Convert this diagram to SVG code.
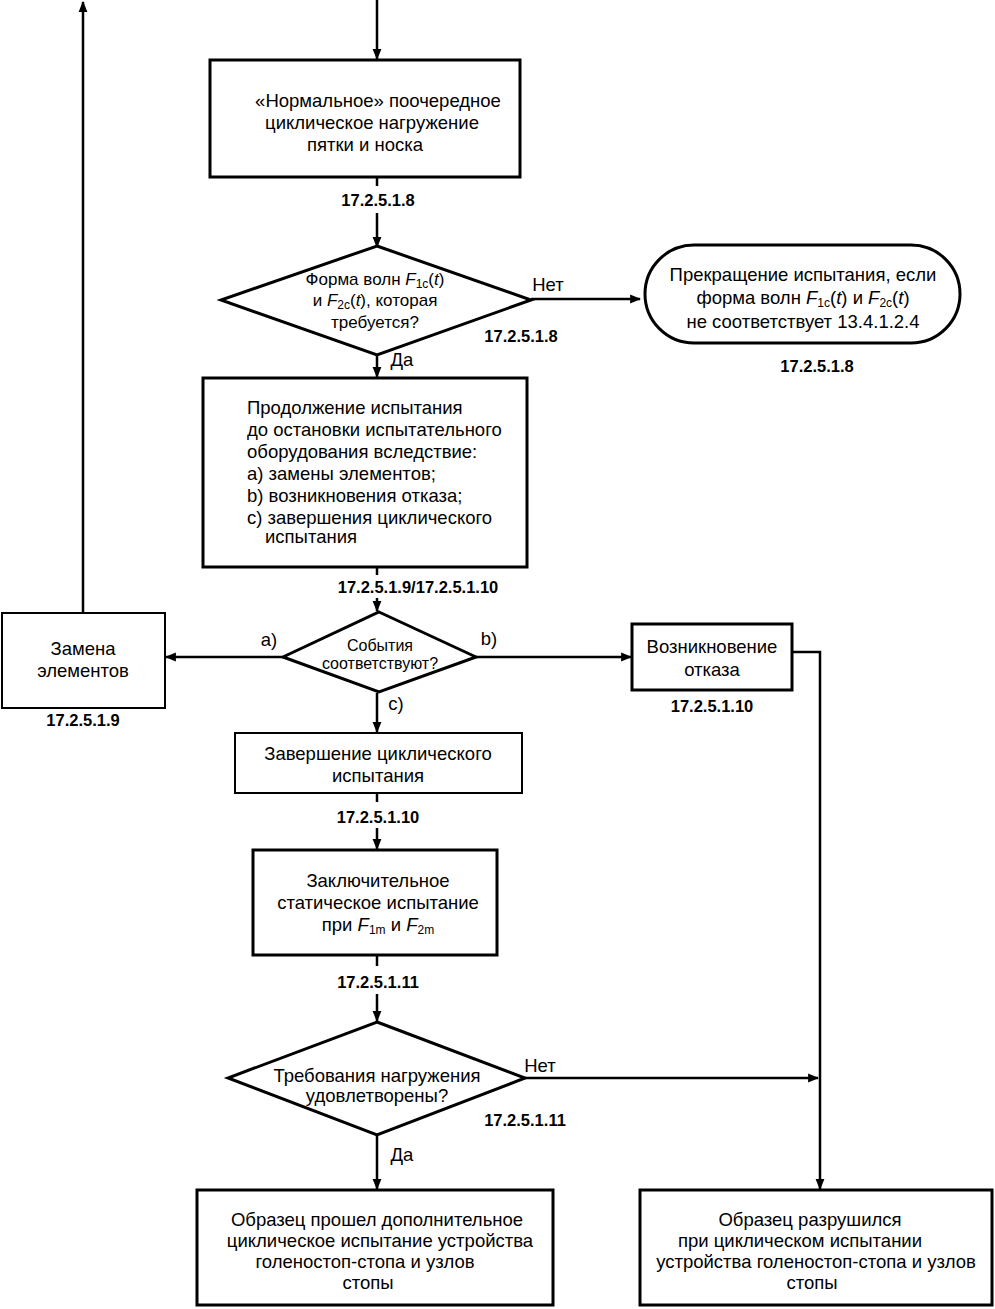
<svg xmlns="http://www.w3.org/2000/svg" width="995" height="1309" viewBox="0 0 995 1309">
<defs>
<marker id="ah" viewBox="0 0 10 10" refX="9" refY="5" markerWidth="11" markerHeight="11" markerUnits="userSpaceOnUse" orient="auto">
<path d="M0,1 L10,5 L0,9 Z" fill="#000"/>
</marker>
</defs>
<style>
text{font-family:"Liberation Sans",Arial,sans-serif;font-size:18.5px;fill:#000}
.c{text-anchor:middle}
.b{font-weight:bold;font-size:16.5px}
.i{font-style:italic}
.box{fill:#fff;stroke:#000;stroke-width:3}
.thin{fill:#fff;stroke:#000;stroke-width:2}
.ln{fill:none;stroke:#000;stroke-width:2.5}
.s{font-size:12px}
.d{font-size:17px}
.d2{font-size:16px}
</style>
<rect width="995" height="1309" fill="#fff"/>
<g id="connectors">
<line class="ln" x1="377" y1="0" x2="377" y2="59" marker-end="url(#ah)"/>
<line class="ln" x1="377" y1="178" x2="377" y2="186"/>
<line class="ln" x1="377" y1="213" x2="377" y2="247" marker-end="url(#ah)"/>
<line class="ln" x1="531" y1="299" x2="640" y2="299" marker-end="url(#ah)"/>
<line class="ln" x1="377" y1="355" x2="377" y2="377" marker-end="url(#ah)"/>
<line class="ln" x1="377" y1="568" x2="377" y2="575"/>
<line class="ln" x1="377" y1="598" x2="377" y2="611" marker-end="url(#ah)"/>
<line class="ln" x1="283" y1="657" x2="166" y2="657" marker-end="url(#ah)"/>
<line class="ln" x1="83" y1="612" x2="83" y2="2" marker-end="url(#ah)"/>
<line class="ln" x1="476" y1="657" x2="631" y2="657" marker-end="url(#ah)"/>
<polyline class="ln" points="792,652 820,652 820,1189" marker-end="url(#ah)"/>
<line class="ln" x1="377" y1="693" x2="377" y2="732" marker-end="url(#ah)"/>
<line class="ln" x1="377" y1="794" x2="377" y2="802"/>
<line class="ln" x1="377" y1="828" x2="377" y2="849" marker-end="url(#ah)"/>
<line class="ln" x1="377" y1="956" x2="377" y2="966"/>
<line class="ln" x1="377" y1="994" x2="377" y2="1021" marker-end="url(#ah)"/>
<line class="ln" x1="525" y1="1078" x2="818" y2="1078" marker-end="url(#ah)"/>
<line class="ln" x1="377" y1="1135" x2="377" y2="1189" marker-end="url(#ah)"/>
<text x="548" y="291" class="c">Нет</text>
<text x="402" y="366" class="c">Да</text>
<text x="269" y="646" class="c">a)</text>
<text x="489" y="645" class="c">b)</text>
<text x="396" y="710" class="c">c)</text>
<text x="540" y="1072" class="c">Нет</text>
<text x="402" y="1161" class="c">Да</text>
</g>
<g id="n1">
<rect class="box" x="210" y="60" width="310" height="117"/>
<text x="378" y="107" class="c">«Нормальное» поочередное</text>
<text x="372" y="129" class="c">циклическое нагружение</text>
<text x="365" y="151" class="c">пятки и носка</text>
<text x="378" y="206" class="c b">17.2.5.1.8</text>
</g>
<g id="d1">
<polygon class="box" points="377,246 531,300 377,355 221,300"/>
<text x="375" y="285" class="c d">Форма волн <tspan class="i">F</tspan><tspan class="s" dy="3">1c</tspan><tspan dy="-3">(<tspan class="i">t</tspan>)</tspan></text>
<text x="375" y="306" class="c d">и <tspan class="i">F</tspan><tspan class="s" dy="3">2c</tspan><tspan dy="-3">(<tspan class="i">t</tspan>), которая</tspan></text>
<text x="375" y="328" class="c d">требуется?</text>
<text x="521" y="342" class="c b">17.2.5.1.8</text>
</g>
<g id="n2">
<rect class="box" x="645" y="245" width="315" height="98" rx="49" ry="49"/>
<text x="803" y="281" class="c">Прекращение испытания, если</text>
<text x="803" y="304" class="c">форма волн <tspan class="i">F</tspan><tspan class="s" dy="3">1c</tspan><tspan dy="-3">(<tspan class="i">t</tspan>) и </tspan><tspan class="i">F</tspan><tspan class="s" dy="3">2c</tspan><tspan dy="-3">(<tspan class="i">t</tspan>)</tspan></text>
<text x="803" y="328" class="c">не соответствует 13.4.1.2.4</text>
<text x="817" y="372" class="c b">17.2.5.1.8</text>
</g>
<g id="n3">
<rect class="box" x="203" y="378" width="324" height="189"/>
<text x="247" y="414">Продолжение испытания</text>
<text x="247" y="436">до остановки испытательного</text>
<text x="247" y="458">оборудования вследствие:</text>
<text x="247" y="480">a) замены элементов;</text>
<text x="247" y="502">b) возникновения отказа;</text>
<text x="247" y="524">c) завершения циклического</text>
<text x="265" y="543">испытания</text>
<text x="418" y="593" class="c b">17.2.5.1.9/17.2.5.1.10</text>
</g>
<g id="d2">
<polygon class="box" points="379,612 476,657 379,692 283,657"/>
<text x="380" y="651" class="c d2">События</text>
<text x="380" y="669" class="c d2">соответствуют?</text>
</g>
<g id="n4">
<rect class="thin" x="2" y="613" width="163" height="95"/>
<text x="83" y="655" class="c">Замена</text>
<text x="83" y="677" class="c">элементов</text>
<text x="83" y="726" class="c b">17.2.5.1.9</text>
</g>
<g id="n5">
<rect class="box" x="632" y="624" width="160" height="66"/>
<text x="712" y="653" class="c">Возникновение</text>
<text x="712" y="676" class="c">отказа</text>
<text x="712" y="712" class="c b">17.2.5.1.10</text>
</g>
<g id="n6">
<rect class="thin" x="235" y="733" width="287" height="60"/>
<text x="378" y="760" class="c">Завершение циклического</text>
<text x="378" y="782" class="c">испытания</text>
<text x="378" y="823" class="c b">17.2.5.1.10</text>
</g>
<g id="n7">
<rect class="box" x="253" y="850" width="244" height="105"/>
<text x="378" y="887" class="c">Заключительное</text>
<text x="378" y="909" class="c">статическое испытание</text>
<text x="378" y="931" class="c">при <tspan class="i">F</tspan><tspan class="s" dy="3">1m</tspan><tspan dy="-3"> и </tspan><tspan class="i">F</tspan><tspan class="s" dy="3">2m</tspan></text>
<text x="378" y="988" class="c b">17.2.5.1.11</text>
</g>
<g id="d3">
<polygon class="box" points="377,1022 525,1078 377,1135 228,1078"/>
<text x="377" y="1082" class="c">Требования нагружения</text>
<text x="377" y="1102" class="c">удовлетворены?</text>
<text x="525" y="1126" class="c b">17.2.5.1.11</text>
</g>
<g id="n8">
<rect class="box" x="197" y="1190" width="356" height="115"/>
<text x="377" y="1226" class="c">Образец прошел дополнительное</text>
<text x="380" y="1247" class="c">циклическое испытание устройства</text>
<text x="365" y="1268" class="c">голеностоп-стопа и узлов</text>
<text x="368" y="1289" class="c">стопы</text>
</g>
<g id="n9">
<rect class="box" x="640" y="1190" width="352" height="115"/>
<text x="810" y="1226" class="c">Образец разрушился</text>
<text x="800" y="1247" class="c">при циклическом испытании</text>
<text x="816" y="1268" class="c">устройства голеностоп-стопа и узлов</text>
<text x="812" y="1289" class="c">стопы</text>
</g>
</svg>
